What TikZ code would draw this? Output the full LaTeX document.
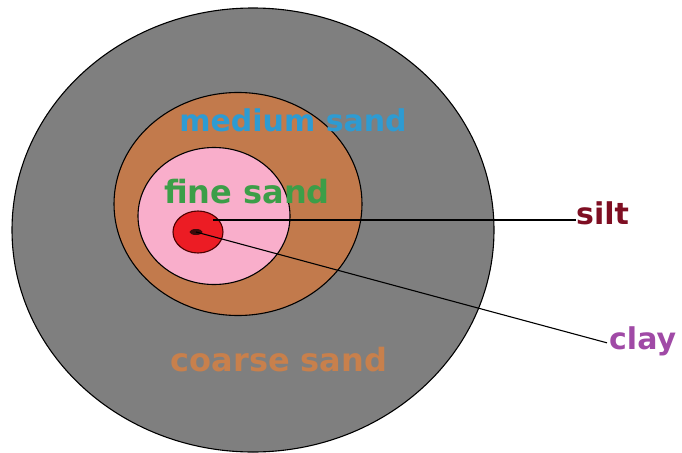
\documentclass[tikz,border=0pt]{standalone}
\usepackage{fontspec}
\setmainfont{DejaVu Sans}
\usetikzlibrary{shapes.geometric}
\definecolor{coarsefill}{HTML}{7F7F7F}
\definecolor{mediumfill}{HTML}{C27A4C}
\definecolor{finefill}{HTML}{F9AECB}
\definecolor{siltfill}{HTML}{EC1C24}
\definecolor{claycore}{HTML}{3A0A0A}
\definecolor{mediumtxt}{HTML}{2E9BD2}
\definecolor{finetxt}{HTML}{3C9E48}
\definecolor{silttxt}{HTML}{7E0E22}
\definecolor{claytxt}{HTML}{A04AA6}
\definecolor{coarsetxt}{HTML}{C8804C}
\begin{document}
\begin{tikzpicture}[x=1pt,y=-1pt,
  ring/.style={ellipse, draw=black, line width=1.1pt, inner sep=0pt},
  lbl/.style={font=\bfseries\fontsize{30}{30}\selectfont, inner sep=0pt, anchor=base},
  biglbl/.style={lbl, font=\bfseries\fontsize{32}{32}\selectfont},
  lead/.style={draw=black, line width=1.1pt}]
\useasboundingbox[fill=white] (0,0) rectangle (682,452);
\node[ring, fill=coarsefill, minimum width=482pt, minimum height=444pt] (coarse) at (253,230) {};
\node[ring, fill=mediumfill, minimum width=248pt, minimum height=223pt] (medium) at (238,204) {};
\node[ring, fill=finefill, minimum width=152pt, minimum height=137pt] (fine) at (214,216) {};
\node[ring, fill=siltfill, draw=black!70!red, minimum width=50pt, minimum height=42pt] (siltring) at (198,232) {};
\node[ellipse, fill=claycore, inner sep=0pt, minimum width=13pt, minimum height=6pt] (core) at (196,232) {};
\coordinate (siltstart) at (213,220);
\node[lbl, text=mediumtxt] (mediumlbl) at (293,131) {medium sand};
\node[biglbl, text=finetxt] (finelbl) at (247,203) {fine sand};
\node[biglbl, text=coarsetxt] (coarselbl) at (279,371) {coarse sand};
\node[lbl, text=silttxt, anchor=base west] (silt) at (576,224) {silt};
\node[lbl, text=claytxt, anchor=base west] (clay) at (609,349) {clay};
\draw[lead] (siltstart) -- (siltstart -| silt.west);
\draw[lead] (core.center) -- ([xshift=-2pt,yshift=-2pt]clay.west);
\end{tikzpicture}
\end{document}
